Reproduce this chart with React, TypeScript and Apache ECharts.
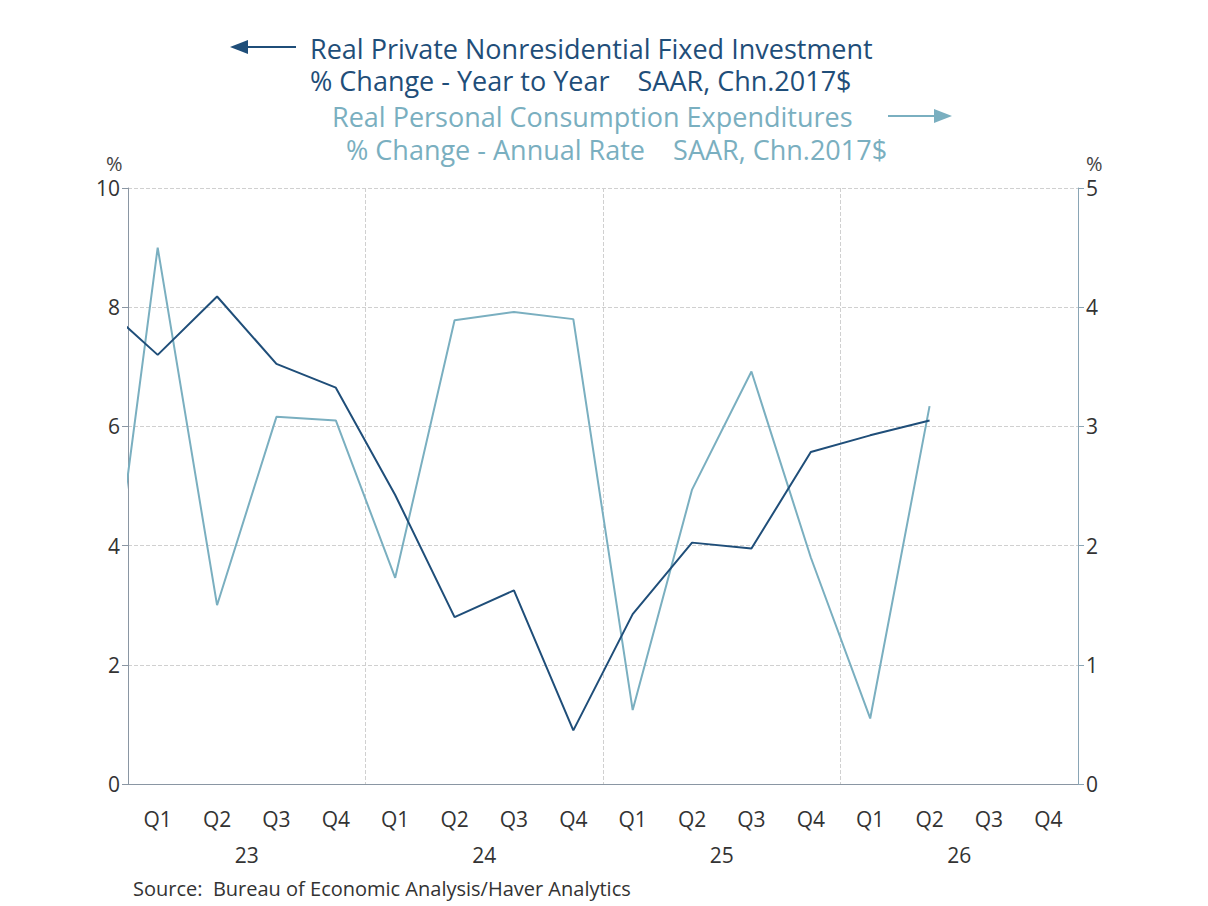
import { useEffect, useRef } from "react";
import * as echarts from "echarts";

const quarters = ["Q1", "Q2", "Q3", "Q4", "Q1", "Q2", "Q3", "Q4", "Q1", "Q2", "Q3", "Q4", "Q1", "Q2", "Q3", "Q4"];
const years = ["23", "24", "25", "26"];
// starts at 2022 Q4 (clipped at left edge)
const investment = [8.1, 7.2, 8.18, 7.05, 6.65, 4.85, 2.8, 3.25, 0.9, 2.85, 4.05, 3.95, 5.57, 5.85, 6.1];
const consumption = [0.7, 4.5, 1.5, 3.08, 3.05, 1.73, 3.89, 3.96, 3.9, 0.62, 2.47, 3.46, 1.9, 0.55, 3.17];

const DARK = "#1f4e79";
const LIGHT = "#7aafc0";
const FONT = "Open Sans";

const pts = (vals: number[]) => vals.map((v, i) => [i - 0.5, v]);

export default function App() {
  const ref = useRef<HTMLDivElement>(null);
  useEffect(() => {
    const chart = echarts.init(ref.current!, undefined, { renderer: "svg" });
    const t = (x: number, y: number, text: string, color: string, size = 27) => ({
      type: "text", x, y,
      style: { text, fill: color, font: `${size}px "${FONT}"`, lineHeight: size, textVerticalAlign: "middle" },
    });
    chart.setOption({
      animation: false,
      textStyle: { fontFamily: FONT },
      grid: { left: 128, right: 130, top: 188, bottom: 122 },
      graphic: [
        { type: "line", shape: { x1: 242, y1: 47, x2: 296, y2: 47 }, style: { stroke: DARK, lineWidth: 2 } },
        { type: "polygon", shape: { points: [[230, 47], [248, 40], [248, 54]] }, style: { fill: DARK } },
        t(310, 48, "Real Private Nonresidential Fixed Investment", DARK),
        t(310, 80, "% Change - Year to Year    SAAR, Chn.2017$", DARK),
        t(332, 116, "Real Personal Consumption Expenditures", LIGHT),
        { type: "line", shape: { x1: 888, y1: 116, x2: 938, y2: 116 }, style: { stroke: LIGHT, lineWidth: 2 } },
        { type: "polygon", shape: { points: [[952, 116], [934, 109], [934, 123]] }, style: { fill: LIGHT } },
        t(346, 149, "% Change - Annual Rate    SAAR, Chn.2017$", LIGHT),
        t(106, 163, "%", "#444", 20),
        t(1086, 163, "%", "#444", 20),
        t(133, 888, "Source:  Bureau of Economic Analysis/Haver Analytics", "#333", 20),
      ],
      xAxis: [
        {
          type: "category", data: quarters, boundaryGap: true,
          axisLine: { lineStyle: { color: "#8a96a3" } },
          axisTick: { interval: (i: number) => i % 4 === 0, length: 18, lineStyle: { color: "#8a96a3" } },
          axisLabel: { interval: 0, color: "#333", fontSize: 21, margin: 24 },
          splitLine: { show: false },
        },
        {
          type: "category", data: years, boundaryGap: true, position: "bottom", offset: 36,
          axisLine: { show: false }, axisTick: { show: false },
          axisLabel: { color: "#333", fontSize: 21, margin: 24 },
          splitLine: { show: true, lineStyle: { color: "#d0d0d0", type: "dashed" } },
        },
        { type: "value", min: 0, max: 16, show: false },
      ],
      yAxis: [
        {
          type: "value", min: 0, max: 10, interval: 2,
          axisLine: { show: true, lineStyle: { color: "#8a96a3" } },
          axisTick: { show: true, length: 6 },
          axisLabel: { color: "#333", fontSize: 21 },
          splitLine: { lineStyle: { color: "#d0d0d0", type: "dashed" } },
        },
        {
          type: "value", min: 0, max: 5, interval: 1, position: "right",
          axisLine: { show: true, lineStyle: { color: "#8aa5b5" } },
          axisTick: { show: true, length: 6 },
          axisLabel: { color: "#333", fontSize: 21 },
          splitLine: { show: false },
        },
      ],
      series: [
        { type: "line", xAxisIndex: 2, yAxisIndex: 1, data: pts(consumption), showSymbol: false, lineStyle: { color: LIGHT, width: 2 }, clip: true },
        { type: "line", xAxisIndex: 2, yAxisIndex: 0, data: pts(investment), showSymbol: false, lineStyle: { color: DARK, width: 2 }, clip: true },
      ],
    });
    return () => chart.dispose();
  }, []);
  return <div ref={ref} style={{ position: "fixed", left: 0, top: 0, width: 1208, height: 906, background: "#fff" }} />;
}
